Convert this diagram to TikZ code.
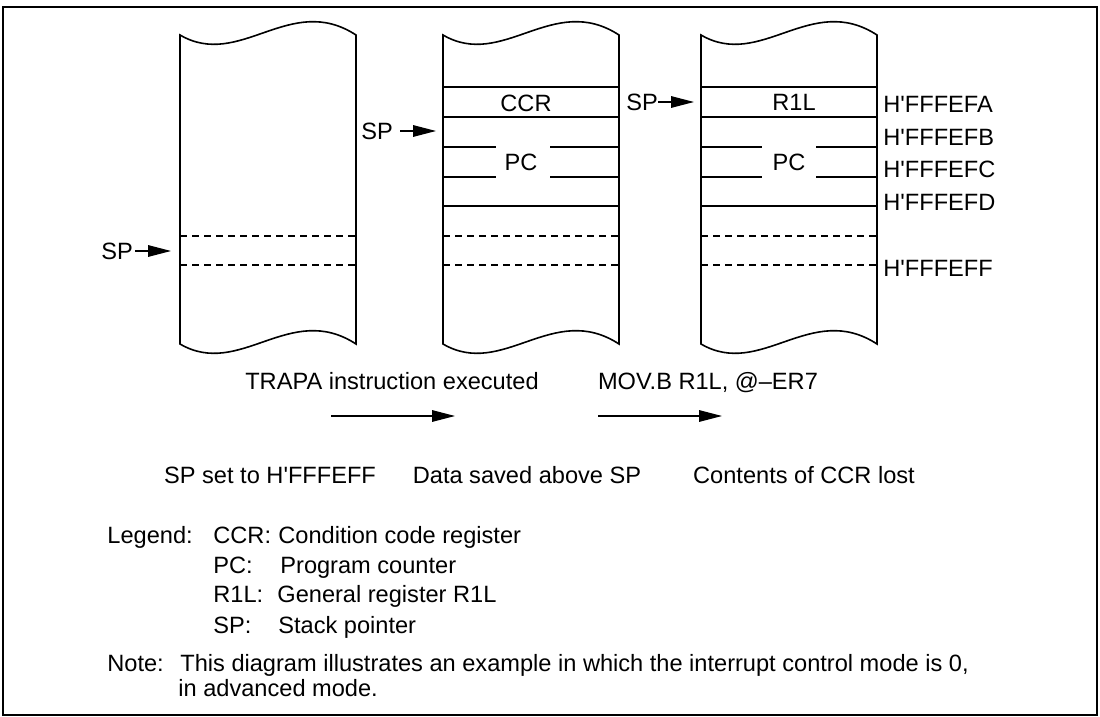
\documentclass[tikz,border=0pt]{standalone}
\usepackage{fontspec}
\setmainfont{Liberation Sans}[Ligatures=TeXOff]
\usetikzlibrary{arrows.meta}

\begin{document}
\begin{tikzpicture}[
  x=0.5pt, y=-0.5pt,
  every node/.style={inner sep=0pt, font=\fontsize{11.8}{14}\selectfont},
  frame_line/.style={line width=1.3pt, black},
  stack_edge/.style={line width=0.8pt, black},
  row_line/.style  ={line width=0.55pt, black},
  row_dash/.style  ={line width=0.55pt, black, dash pattern=on 3.5pt off 2.5pt},
  arr/.style       ={-{Triangle[length=11.5pt, width=5.8pt]}, line width=0.6pt, black},
  addr/.style      ={anchor=west},
  lbl/.style       ={anchor=base west},
  step_txt/.style  ={anchor=base},
]
  \useasboundingbox (0,0) rectangle (1100,717);
  \draw[frame_line] (3,7) rectangle (1097,715);

  % stacks
  \draw[stack_edge, shift={(180,0)}] (0,35) .. controls (60,70) and (110,-8) .. (176,35) -- (176,344)
    .. controls (110,301) and (60,379) .. (0,344) -- cycle;
  \draw[stack_edge, shift={(443,0)}] (0,35) .. controls (60,70) and (110,-8) .. (176,35) -- (176,344)
    .. controls (110,301) and (60,379) .. (0,344) -- cycle;
  \draw[stack_edge, shift={(701,0)}] (0,35) .. controls (60,70) and (110,-8) .. (176,35) -- (176,344)
    .. controls (110,301) and (60,379) .. (0,344) -- cycle;

  % stack 1
  \draw[row_dash] (180,236) -- (356,236);
  \draw[row_dash] (180,265) -- (356,265);

  % stack 2
  \draw[row_line] (443,87) -- (619,87);
  \draw[row_line] (443,117) -- (619,117);
  \draw[row_line] (443,147) -- (496,147) (550,147) -- (619,147);
  \draw[row_line] (443,177) -- (496,177) (550,177) -- (619,177);
  \draw[row_line] (443,206) -- (619,206);
  \draw[row_dash] (443,236) -- (619,236);
  \draw[row_dash] (443,265) -- (619,265);
  \node (ccr)  at (526,103) {CCR};
  \node (pc_a) at (521,162) {PC};

  % stack 3
  \draw[row_line] (701,87) -- (877,87);
  \draw[row_line] (701,117) -- (877,117);
  \draw[row_line] (701,147) -- (762,147) (816,147) -- (877,147);
  \draw[row_line] (701,177) -- (762,177) (816,177) -- (877,177);
  \draw[row_line] (701,206) -- (877,206);
  \draw[row_dash] (701,236) -- (877,236);
  \draw[row_dash] (701,265) -- (877,265);
  \node (r1l)  at (794,102) {R1L};
  \node (pc_b) at (789,162) {PC};

  \node[addr] (ad_fa) at (883,104) {H'FFFEFA};
  \node[addr] (ad_fb) at (883,137) {H'FFFEFB};
  \node[addr] (ad_fc) at (883,169) {H'FFFEFC};
  \node[addr] (ad_fd) at (883,202) {H'FFFEFD};
  \node[addr] (ad_ff) at (883,268) {H'FFFEFF};

  % stack pointers
  \node (sp_a) at (117,251) {SP};
  \coordinate (sp_a_tip) at (171,251);
  \node (sp_b) at (377,131) {SP};
  \coordinate (sp_b_tip) at (436,131);
  \node (sp_c) at (642,102) {SP};
  \coordinate (sp_c_tip) at (694,102);
  \draw[arr, shorten <=1pt] (sp_a.east) -- (sp_a_tip);
  \draw[arr, shorten <=3.5pt] (sp_b.east) -- (sp_b_tip);
  \draw[arr] (sp_c.east) -- (sp_c_tip);

  % steps
  \node[step_txt] (trapa) at (392,390) {TRAPA instruction executed};
  \node[step_txt] (movb)  at (708,390) {MOV.B R1L, @–ER7};
  \coordinate (step_a_from) at (331,416);
  \coordinate (step_a_to)   at (455,416);
  \coordinate (step_b_from) at (598,416);
  \coordinate (step_b_to)   at (722,416);
  \draw[arr] (step_a_from) -- (step_a_to);
  \draw[arr] (step_b_from) -- (step_b_to);

  \node[step_txt] (res_a) at (270,483) {SP set to H'FFFEFF};
  \node[step_txt] (res_b) at (527,483) {Data saved above SP};
  \node[step_txt] (res_c) at (804,483) {Contents of CCR lost};

  % legend
  \node[lbl] (lg)     at (107,544) {Legend:};
  \node[lbl] (lg_ccr) at (213,544) {CCR:};
  \node[lbl] (lg_ccr_t) at (278,544) {Condition code register};
  \node[lbl] (lg_pc)  at (213,574) {PC:};
  \node[lbl] (lg_pc_t)  at (280,574) {Program counter};
  \node[lbl] (lg_r1l) at (213,603) {R1L:};
  \node[lbl] (lg_r1l_t) at (277,603) {General register R1L};
  \node[lbl] (lg_sp)  at (213,633) {SP:};
  \node[lbl] (lg_sp_t)  at (278,633) {Stack pointer};

  \node[lbl] (note)   at (107,671) {Note:};
  \node[lbl] (note_a) at (180,671) {This diagram illustrates an example in which the interrupt control mode is 0,};
  \node[lbl] (note_b) at (178,697) {in advanced mode.};
\end{tikzpicture}
\end{document}
